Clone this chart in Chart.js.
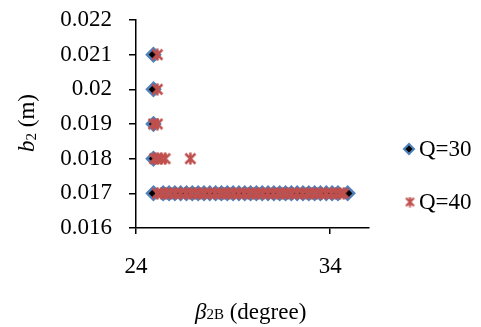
<!DOCTYPE html>
<html>
<head>
<meta charset="utf-8">
<script src="https://cdn.jsdelivr.net/npm/chart.js@4.4.0/dist/chart.umd.min.js"></script>
<style>
  html, body { margin: 0; padding: 0; background: #fff; }
  #wrap { width: 481px; height: 327px; }
</style>
</head>
<body>
<div id="wrap"><canvas id="chart"></canvas></div>
<script>
// Series names
var seriesNames = ["Q=30", "Q=40"];

// Q=30 points (beta2B in degree, b2 in m)
var q30X = [24.9, 24.9, 24.9, 24.9, 24.9,
    25.4, 25.7, 26.0, 26.3, 26.6, 26.9, 27.2, 27.5, 27.8, 28.1, 28.4, 28.7,
    29.0, 29.3, 29.6, 29.9, 30.2, 30.5, 30.8, 31.1, 31.4, 31.7, 32.0, 32.3,
    32.6, 32.9, 33.2, 33.5, 33.8, 34.1, 34.4, 34.9];
var q30Y = [0.021, 0.020, 0.019, 0.018, 0.017,
    0.017, 0.017, 0.017, 0.017, 0.017, 0.017, 0.017, 0.017, 0.017, 0.017, 0.017, 0.017,
    0.017, 0.017, 0.017, 0.017, 0.017, 0.017, 0.017, 0.017, 0.017, 0.017, 0.017, 0.017,
    0.017, 0.017, 0.017, 0.017, 0.017, 0.017, 0.017, 0.017];

// Q=40 points
var q40X = [25.1, 25.1, 24.9, 25.1, 24.95, 25.1, 25.3, 25.5, 26.8,
    25.1, 25.3, 25.55, 25.8, 26.05, 26.3, 26.55, 26.8, 27.05, 27.3, 27.55, 27.8,
    28.05, 28.3, 28.55, 28.8, 29.05, 29.3, 29.55, 29.8, 30.05, 30.3, 30.55, 30.8,
    31.05, 31.3, 31.55, 31.8, 32.05, 32.3, 32.55, 32.8, 33.05, 33.3, 33.55, 33.8,
    34.05, 34.3, 34.5, 34.7];
var q40Y = [0.021, 0.020, 0.019, 0.019, 0.018, 0.018, 0.018, 0.018, 0.018,
    0.017, 0.017, 0.017, 0.017, 0.017, 0.017, 0.017, 0.017, 0.017, 0.017, 0.017, 0.017,
    0.017, 0.017, 0.017, 0.017, 0.017, 0.017, 0.017, 0.017, 0.017, 0.017, 0.017, 0.017,
    0.017, 0.017, 0.017, 0.017, 0.017, 0.017, 0.017, 0.017, 0.017, 0.017, 0.017, 0.017,
    0.017, 0.017, 0.017, 0.017];

// Axis ticks
var xTicks = [24, 34];
var yTicks = [0.016, 0.017, 0.018, 0.019, 0.020, 0.021, 0.022];
var yTickLabels = ["0.016", "0.017", "0.018", "0.019", "0.02", "0.021", "0.022"];

var SERIF = "'Liberation Serif', 'Times New Roman', serif";
var BLUE = "#4F81BD";
var RED = "#C0504D";

function toPoints(xs, ys) {
    var pts = [];
    for (var i = 0; i < xs.length; i++) pts.push({x: xs[i], y: ys[i]});
    return pts;
}

// Excel-like asterisk marker: an X with a vertical bar
function makeStar(size, lw) {
    var c = document.createElement("canvas");
    c.width = size;
    c.height = size;
    var g = c.getContext("2d");
    var m = 1.5, s = size - 1.5;
    g.strokeStyle = RED;
    g.lineWidth = lw;
    g.beginPath();
    g.moveTo(m, m); g.lineTo(s, s);
    g.moveTo(s, m); g.lineTo(m, s);
    g.moveTo(size / 2, 0.5); g.lineTo(size / 2, size - 0.5);
    g.stroke();
    return c;
}
var starImg = makeStar(13, 2.5);
var starLegend = makeStar(11, 2.2);

// Titles and legend drawn by hand (italic + subscript mix)
var extras = {
    id: "extras",
    afterDraw: function (chart) {
        var ctx = chart.ctx;
        ctx.save();
        ctx.fillStyle = "#000";
        ctx.textBaseline = "alphabetic";

        // y title: b2 (m), rotated
        ctx.translate(34, 152);
        ctx.rotate(-Math.PI / 2);
        ctx.textAlign = "left";
        var x = 0;
        ctx.font = "italic 23px " + SERIF;
        ctx.fillText("b", x, 0); x += ctx.measureText("b").width;
        ctx.font = "15px " + SERIF;
        ctx.fillText("2", x, 2); x += ctx.measureText("2").width;
        ctx.font = "23px " + SERIF;
        ctx.fillText(" (m)", x, 0);
        ctx.setTransform(1, 0, 0, 1, 0, 0);

        // x title: beta2B (degree)
        x = 195;
        ctx.font = "italic 23px " + SERIF;
        ctx.fillText("\u03B2", x, 319); x += ctx.measureText("\u03B2").width;
        ctx.font = "15px " + SERIF;
        ctx.fillText("2B", x, 319); x += ctx.measureText("2B").width;
        ctx.font = "23px " + SERIF;
        ctx.fillText(" (degree)", x, 319);

        // legend
        ctx.font = "23px " + SERIF;
        ctx.textBaseline = "middle";
        ctx.fillStyle = "#000";
        ctx.strokeStyle = BLUE;
        ctx.lineWidth = 2;
        Chart.helpers.drawPoint(ctx, {pointStyle: "rectRot", radius: 5, borderWidth: 2}, 409, 149);
        ctx.drawImage(starLegend, 404.5, 196.5);
        ctx.fillStyle = "#000";
        ctx.fillText(seriesNames[0], 419, 150);
        ctx.fillText(seriesNames[1], 419, 203);
        ctx.restore();
    }
};

var ctx1 = document.getElementById("chart").getContext("2d");
var myChart = new Chart(ctx1, {
    type: "scatter",
    data: {
        datasets: [
            {
                label: seriesNames[1],
                data: toPoints(q40X, q40Y),
                pointStyle: starImg,
                pointRadius: 6,
                borderColor: RED,
                backgroundColor: RED,
                order: 0
            },
            {
                label: seriesNames[0],
                data: toPoints(q30X, q30Y),
                pointStyle: "rectRot",
                pointRadius: 6.5,
                borderColor: BLUE,
                backgroundColor: "#000",
                pointBorderWidth: 2.5,
                order: 1
            }
        ]
    },
    options: {
        responsive: true,
        maintainAspectRatio: false,
        animation: false,
        layout: {padding: {top: 20, right: 112, left: 0, bottom: 0}},
        plugins: {
            legend: {display: false},
            tooltip: {enabled: false}
        },
        scales: {
            x: {
                type: "linear",
                min: 24,
                max: 36,
                afterBuildTicks: function (scale) {
                    scale.ticks = xTicks.map(function (v) { return {value: v}; });
                },
                afterFit: function (scale) {
                    scale.height = 99;
                    scale.paddingLeft = 0;
                    scale.paddingRight = 0;
                },
                border: {display: true, color: "#000", width: 1.5},
                grid: {display: true, drawOnChartArea: false, drawTicks: true, tickLength: 6, color: "#000", lineWidth: 1.5},
                ticks: {
                    color: "#000",
                    padding: 19,
                    maxRotation: 0,
                    font: {family: SERIF, size: 23}
                }
            },
            y: {
                type: "linear",
                min: 0.016,
                max: 0.022,
                afterBuildTicks: function (scale) {
                    scale.ticks = yTicks.map(function (v) { return {value: v}; });
                },
                afterFit: function (scale) {
                    scale.width = 136;
                    scale.paddingTop = 0;
                    scale.paddingBottom = 0;
                },
                border: {display: true, color: "#000", width: 1.5},
                grid: {display: true, drawOnChartArea: false, drawTicks: true, tickLength: 7, color: "#000", lineWidth: 1.5},
                ticks: {
                    color: "#000",
                    padding: 17,
                    font: {family: SERIF, size: 23},
                    callback: function (value) {
                        var i = yTicks.indexOf(value);
                        return i >= 0 ? yTickLabels[i] : "";
                    }
                }
            }
        }
    },
    plugins: [extras]
});
</script>
</body>
</html>
